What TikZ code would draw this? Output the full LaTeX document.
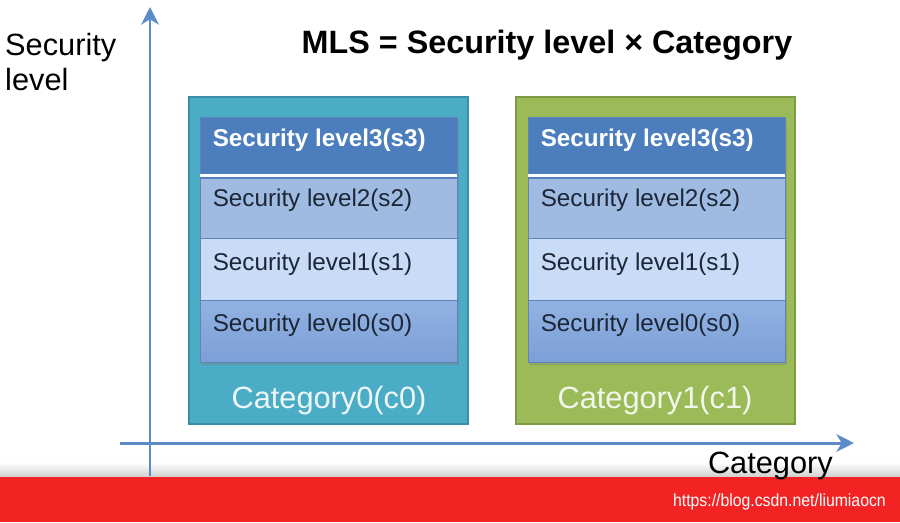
\documentclass[tikz,border=0pt]{standalone}
\usepackage{fontspec}
\setmainfont{Liberation Sans}
\usepackage{tikz}
\usetikzlibrary{positioning, arrows.meta, shadows}

\definecolor{axisblue}{HTML}{5B8CC8}
\definecolor{tealbox}{HTML}{4BACC6}
\definecolor{tealedge}{HTML}{3A8EA6}
\definecolor{greenbox}{HTML}{9BBB59}
\definecolor{greenedge}{HTML}{7D9A45}
\definecolor{levelthree}{HTML}{4C7EBE}
\definecolor{leveltwo}{HTML}{9FBBE1}
\definecolor{levelone}{HTML}{C8DCF8}
\definecolor{levelzerotop}{HTML}{92B2E2}
\definecolor{levelzerobot}{HTML}{7C9FD6}
\definecolor{rowedge}{HTML}{5F84BA}
\definecolor{rowtext}{HTML}{1C2636}
\definecolor{bandred}{HTML}{F42323}

\tikzset{
  catbox/.style={draw, line width=1.2pt, minimum width=5.58cm, minimum height=6.54cm, inner sep=0pt},
  levelrow/.style={draw=rowedge, line width=0.5pt, minimum width=5.14cm, inner sep=0pt},
  leveltext/.style={anchor=west, text=rowtext, font=\fontsize{13.8}{16}\selectfont},
  catlabel/.style={font=\fontsize{17.5}{20}\selectfont},
  axis/.style={draw=axisblue, line width=1.7pt, -{Stealth[length=10pt,width=10pt,inset=3pt]}}
}

\begin{document}
\begin{tikzpicture}[x=0.02cm, y=-0.02cm, every node/.style={font=\normalsize}]
\useasboundingbox (0,0) rectangle (900,522);

% Define the bands at the bottom
\shade[top color=white, bottom color=black!20] (0,462) rectangle (900,478);

% Define the axes
\coordinate (ybottom) at (150,476);
\coordinate (ytop) at (150,7);
\coordinate (xleft) at (120,443);
\coordinate (xright) at (854,443);
\draw[axis] (ybottom) -- (ytop);
\draw[axis] (xleft) -- (xright);

\fill[bandred] (0,477) rectangle (900,522);

% Define the labels
\node[anchor=north west, align=left, font=\fontsize{17.5}{20}\selectfont] (ylabel) at (-1,27) {Security\\level};
\node[anchor=base east, font=\fontsize{17.5}{20}\selectfont] (xlabel) at (839,473) {Category};
\node[font=\fontsize{18.4}{20}\selectfont\bfseries] (title) at (547,45) {MLS = Security level × Category};
\node[anchor=base east, text=white, font=\fontsize{10}{11}\selectfont] (url) at (892,506) {\scalebox{0.9}[1]{https://blog.csdn.net/liumiaocn}};

% Define the category boxes
\node[catbox, fill=tealbox, draw=tealedge] (cat0) at (328.5,260.5) {};
\node[catbox, fill=greenbox, draw=greenedge] (cat1) at (655.5,260.5) {};
\node[catlabel, text=white!90!tealbox] (cat0lbl) at (329,401) {Category0(c0)};
\node[catlabel, text=white!88!greenbox] (cat1lbl) at (655,401) {Category1(c1)};

% Define the security levels in each box
\foreach \cx/\c in {328.5/0, 656.5/1} {
  \node[draw=rowedge, fill=levelthree, minimum width=5.14cm, minimum height=4.9cm, inner sep=0pt,
        drop shadow={shadow xshift=1pt, shadow yshift=-2pt, opacity=0.4}] (stack\c) at (\cx,239.5) {};
  \node[levelrow, fill=levelthree, minimum height=1.16cm] (s3c\c) at (\cx,146) {};
  \node[levelrow, fill=leveltwo, minimum height=1.2cm] (s2c\c) at (\cx,208) {};
  \node[levelrow, fill=levelone, minimum height=1.24cm] (s1c\c) at (\cx,269) {};
  \node[levelrow, top color=levelzerotop, bottom color=levelzerobot, minimum height=1.24cm] (s0c\c) at (\cx,331) {};
  \draw[white, line width=1.5pt] (s3c\c.south west) -- (s3c\c.south east);
  \node[leveltext, text=white, font=\fontsize{13.8}{16}\selectfont\bfseries] at ([xshift=0.14cm, yshift=0.11cm]s3c\c.west) {Security level3(s3)};
  \node[leveltext] at ([xshift=0.14cm, yshift=0.15cm]s2c\c.west) {Security level2(s2)};
  \node[leveltext] at ([xshift=0.14cm, yshift=0.1cm]s1c\c.west) {Security level1(s1)};
  \node[leveltext] at ([xshift=0.14cm, yshift=0.12cm]s0c\c.west) {Security level0(s0)};
}
\end{tikzpicture}
\end{document}
